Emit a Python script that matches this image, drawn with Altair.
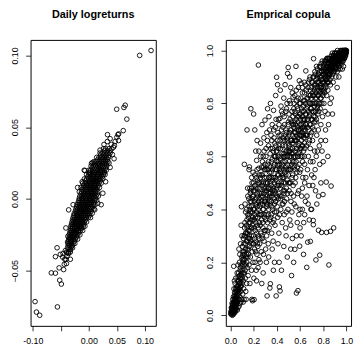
import altair as alt
import pandas as pd

# ---------------- Left panel: daily log-returns (x = asset 1, y = asset 2) ----------------
core_rows = [
    (0.035, [0.030, 0.036, 0.041, 0.026]),
    (0.0335, [0.028, 0.033, 0.038]),
    (0.032, [0.024, 0.029, 0.034, 0.038, 0.020]),
    (0.0305, [0.021, 0.026, 0.031, 0.036]),
    (0.029, [0.018, 0.023, 0.027, 0.031, 0.035, 0.014]),
    (0.0275, [0.016, 0.020, 0.025, 0.029, 0.033]),
    (0.026, [0.013, 0.018, 0.022, 0.026, 0.030, 0.034, 0.009]),
    (0.0245, [0.010, 0.015, 0.019, 0.024, 0.028, 0.031]),
    (0.023, [0.008, 0.012, 0.016, 0.020, 0.024, 0.028, 0.032, 0.004]),
    (0.0215, [0.006, 0.010, 0.014, 0.018, 0.022, 0.026, 0.030]),
    (0.020, [0.003, 0.008, 0.012, 0.016, 0.020, 0.023, 0.027, 0.031, 0.000]),
    (0.0185, [0.001, 0.006, 0.010, 0.013, 0.017, 0.021, 0.025, 0.028]),
    (0.017, [0.000, 0.004, 0.008, 0.011, 0.015, 0.018, 0.022, 0.026, -0.004, 0.029]),
    (0.0155, [-0.002, 0.002, 0.006, 0.009, 0.013, 0.016, 0.020, 0.024]),
    (0.014, [-0.004, 0.000, 0.004, 0.008, 0.011, 0.014, 0.018, 0.021, 0.025, -0.008]),
    (0.0125, [-0.006, -0.001, 0.002, 0.006, 0.009, 0.012, 0.016, 0.020]),
    (0.011, [-0.007, -0.003, 0.001, 0.004, 0.008, 0.011, 0.014, 0.018, 0.022, -0.011]),
    (0.0095, [-0.009, -0.004, -0.001, 0.003, 0.006, 0.010, 0.013, 0.017]),
    (0.008, [-0.010, -0.006, -0.002, 0.001, 0.005, 0.008, 0.011, 0.015, 0.019, -0.014]),
    (0.0065, [-0.012, -0.007, -0.004, 0.000, 0.003, 0.007, 0.010, 0.014]),
    (0.005, [-0.013, -0.009, -0.005, -0.002, 0.002, 0.005, 0.008, 0.012, 0.016, -0.017]),
    (0.0035, [-0.014, -0.010, -0.007, -0.003, 0.000, 0.004, 0.007, 0.011, 0.015]),
    (0.002, [-0.016, -0.012, -0.008, -0.005, -0.001, 0.002, 0.005, 0.009, 0.013, 0.017]),
    (0.0005, [-0.017, -0.013, -0.010, -0.006, -0.003, 0.001, 0.004, 0.008, 0.012]),
    (-0.001, [-0.018, -0.014, -0.011, -0.007, -0.004, 0.000, 0.003, 0.006, 0.010, 0.014]),
    (-0.0025, [-0.019, -0.016, -0.012, -0.008, -0.005, -0.002, 0.002, 0.005, 0.009]),
    (-0.004, [-0.021, -0.017, -0.013, -0.010, -0.006, -0.003, 0.000, 0.004, 0.008, 0.011]),
    (-0.0055, [-0.022, -0.018, -0.015, -0.011, -0.008, -0.004, -0.001, 0.003, 0.007]),
    (-0.007, [-0.023, -0.020, -0.016, -0.013, -0.009, -0.006, -0.003, 0.001, 0.005, 0.009]),
    (-0.0085, [-0.024, -0.021, -0.017, -0.014, -0.011, -0.007, -0.004, 0.000, 0.004]),
    (-0.010, [-0.026, -0.022, -0.019, -0.015, -0.012, -0.009, -0.006, -0.002, 0.002, 0.006]),
    (-0.0115, [-0.027, -0.023, -0.020, -0.017, -0.013, -0.010, -0.007, -0.003, 0.001]),
    (-0.013, [-0.028, -0.025, -0.021, -0.018, -0.015, -0.012, -0.008, -0.005, -0.001, 0.003]),
    (-0.0145, [-0.029, -0.026, -0.023, -0.019, -0.016, -0.013, -0.010, -0.006]),
    (-0.016, [-0.030, -0.027, -0.024, -0.021, -0.018, -0.014, -0.011, -0.008, -0.004]),
    (-0.0175, [-0.031, -0.028, -0.025, -0.022, -0.019, -0.015, -0.012, -0.009]),
    (-0.019, [-0.032, -0.029, -0.026, -0.023, -0.020, -0.017, -0.014, -0.010, -0.007]),
    (-0.0205, [-0.032, -0.029, -0.026, -0.022, -0.019, -0.016, -0.013]),
    (-0.022, [-0.033, -0.030, -0.027, -0.024, -0.021, -0.018, -0.015, -0.011]),
    (-0.0235, [-0.034, -0.031, -0.028, -0.025, -0.022, -0.018]),
    (-0.025, [-0.035, -0.032, -0.029, -0.026, -0.023, -0.020, -0.016]),
    (-0.0265, [-0.035, -0.032, -0.029, -0.026, -0.022]),
    (-0.028, [-0.036, -0.033, -0.030, -0.027, -0.024, -0.020]),
    (-0.0295, [-0.036, -0.033, -0.030, -0.026]),
    (-0.031, [-0.037, -0.034, -0.031, -0.028, -0.025]),
    (-0.0325, [-0.037, -0.034, -0.030]),
    (-0.034, [-0.038, -0.035, -0.032, -0.029]),
    (-0.037, [-0.040, -0.036, -0.033]),
]

ret_x_outer = [0.0907, 0.111, 0.0649, 0.0626, 0.0497, 0.0678, 0.0614, 0.0532, 0.052, 0.0333,
               0.053, 0.0456, 0.0064, -0.0082, 0.0006, 0.040, 0.044, 0.047, 0.038, 0.042,
               0.050, 0.033, 0.027, 0.020, 0.045, 0.036, 0.038,
               0.0047, -0.007, 0.0105, 0.016, -0.012, 0.030, 0.025, -0.020, 0.022, -0.028,
               -0.096, -0.0935, -0.0877, -0.0561, -0.049, -0.052, -0.067, -0.0596, -0.053,
               -0.045, -0.0439, -0.0567, -0.0596, -0.0509, -0.0468, -0.0409, -0.039, -0.036,
               -0.041, -0.0374, -0.031, -0.033, -0.042, -0.039, -0.036, -0.043, -0.040,
               -0.033, -0.038, -0.046]
ret_y_outer = [0.1000, 0.1034, 0.0653, 0.0637, 0.0625, 0.0556, 0.0476, 0.0453, 0.0448, 0.0448,
               0.0407, 0.0372, 0.0253, 0.0200, 0.0180, 0.038, 0.036, 0.040, 0.042, 0.031,
               0.043, 0.040, 0.038, 0.034, 0.028, 0.025, 0.022,
               0.0248, 0.0198, -0.0075, -0.003, 0.012, 0.012, 0.004, 0.008, -0.004, -0.004,
               -0.0715, -0.0788, -0.081, -0.0752, -0.0593, -0.0566, -0.0515, -0.0517, -0.048,
               -0.0492, -0.0455, -0.034, -0.0402, -0.0386, -0.0405, -0.042, -0.0375, -0.0076,
               -0.0202, -0.026, -0.033, -0.0352, -0.036, -0.040, -0.038, -0.042, -0.045,
               -0.042, -0.030, -0.038]

ret_x, ret_y = [], []
for yv, xs in core_rows:
    for xv in xs:
        ret_x.append(xv)
        ret_y.append(yv)
ret_x += ret_x_outer
ret_y += ret_y_outer

# ---------------- Right panel: empirical copula (pseudo-observations) ----------------
cop_pts = [
    (0.003,0.005),(0.006,0.012),(0.01,0.004),(0.012,0.02),(0.015,0.01),(0.018,0.03),(0.02,0.015),(0.022,0.04),
    (0.025,0.022),(0.027,0.008),(0.03,0.035),(0.031,0.05),(0.033,0.025),(0.035,0.045),(0.037,0.018),(0.04,0.06),
    (0.041,0.03),(0.043,0.075),(0.045,0.04),(0.047,0.055),(0.048,0.02),(0.05,0.09),(0.008,0.028),(0.014,0.045),
    (0.02,0.06),(0.026,0.07),(0.03,0.1),(0.036,0.085),(0.04,0.12),(0.044,0.1),(0.028,0.185),(0.034,0.13),
    (0.046,0.14),(0.016,0.0),(0.024,0.003),(0.038,0.01),(0.042,0.015),(0.049,0.03),
    (0.052,0.04),(0.055,0.07),(0.057,0.11),(0.06,0.05),(0.062,0.09),(0.064,0.13),(0.066,0.03),(0.068,0.08),
    (0.07,0.16),(0.072,0.06),(0.074,0.12),(0.076,0.1),(0.078,0.2),(0.08,0.07),(0.082,0.14),(0.084,0.045),
    (0.086,0.18),(0.088,0.11),(0.09,0.09),(0.092,0.34),(0.094,0.15),(0.096,0.06),(0.098,0.22),(0.1,0.12),
    (0.058,0.16),(0.065,0.19),(0.073,0.25),(0.081,0.23),(0.087,0.27),(0.095,0.41),(0.099,0.3),(0.06,0.02),
    (0.075,0.035),(0.09,0.05),(0.053,0.1),(0.067,0.145),
    (0.102,0.17),(0.104,0.26),(0.106,0.08),(0.108,0.2),(0.11,0.13),(0.112,0.29),(0.114,0.1),(0.116,0.24),
    (0.118,0.06),(0.12,0.16),(0.122,0.33),(0.124,0.21),(0.126,0.42),(0.128,0.14),(0.13,0.27),(0.132,0.09),
    (0.134,0.19),(0.136,0.31),(0.138,0.23),(0.14,0.12),(0.142,0.36),(0.144,0.18),(0.146,0.28),(0.148,0.48),
    (0.15,0.22),(0.12,0.57),(0.143,0.7),(0.11,0.05),(0.135,0.06),(0.13,0.39),(0.118,0.3),(0.107,0.23),
    (0.152,0.15),(0.154,0.32),(0.156,0.25),(0.158,0.44),(0.16,0.19),(0.162,0.38),(0.164,0.56),(0.166,0.29),
    (0.168,0.12),(0.17,0.35),(0.172,0.22),(0.174,0.47),(0.176,0.78),(0.178,0.27),(0.18,0.41),(0.182,0.17),
    (0.184,0.33),(0.186,0.5),(0.188,0.24),(0.19,0.055),(0.192,0.37),(0.194,0.2),(0.196,0.45),(0.198,0.3),
    (0.2,0.27),(0.16,0.55),(0.185,0.06),(0.2,0.76),(0.195,0.54),(0.17,0.43),
    (0.202,0.14),(0.204,0.059),(0.206,0.36),(0.208,0.25),(0.21,0.49),(0.212,0.2),(0.214,0.32),(0.216,0.42),
    (0.218,0.62),(0.22,0.28),(0.222,0.17),(0.224,0.39),(0.226,0.585),(0.228,0.23),(0.23,0.46),(0.232,0.34),
    (0.234,0.51),(0.236,0.26),(0.238,0.18),(0.24,0.4),(0.242,0.3),(0.244,0.555),(0.246,0.21),(0.248,0.44),
    (0.25,0.35),(0.241,0.945),(0.21,0.7),(0.23,0.66),(0.245,0.62),(0.225,0.13),
    (0.252,0.27),(0.254,0.48),(0.256,0.2),(0.258,0.38),(0.26,0.65),(0.262,0.31),(0.264,0.53),(0.266,0.24),
    (0.268,0.43),(0.27,0.36),(0.272,0.72),(0.274,0.29),(0.276,0.58),(0.278,0.45),(0.28,0.33),(0.282,0.16),
    (0.284,0.5),(0.286,0.4),(0.288,0.67),(0.29,0.28),(0.292,0.55),(0.294,0.37),(0.296,0.47),(0.298,0.737),
    (0.3,0.32),(0.27,0.12),(0.285,0.23),(0.26,0.6),(0.29,0.62),
    (0.302,0.44),(0.304,0.25),(0.306,0.6),(0.308,0.38),(0.31,0.52),(0.312,0.3),(0.314,0.69),(0.316,0.073),
    (0.318,0.42),(0.32,0.35),(0.322,0.57),(0.324,0.48),(0.326,0.27),(0.328,0.64),(0.33,0.4),(0.332,0.75),
    (0.334,0.33),(0.336,0.54),(0.338,0.45),(0.34,0.103),(0.342,0.61),(0.344,0.119),(0.346,0.5),(0.348,0.37),
    (0.35,0.68),(0.31,0.2),(0.33,0.22),(0.345,0.8),(0.32,0.78),
    (0.352,0.43),(0.354,0.58),(0.356,0.31),(0.358,0.52),(0.36,0.72),(0.362,0.4),(0.364,0.63),(0.366,0.47),
    (0.368,0.28),(0.37,0.56),(0.372,0.774),(0.374,0.36),(0.376,0.67),(0.378,0.5),(0.38,0.42),(0.382,0.6),
    (0.384,0.34),(0.386,0.71),(0.388,0.55),(0.39,0.46),(0.392,0.64),(0.394,0.073),(0.396,0.39),(0.398,0.899),
    (0.4,0.58),(0.36,0.25),(0.38,0.2),(0.39,0.83),(0.37,0.17),
    (0.402,0.49),(0.404,0.66),(0.406,0.871),(0.408,0.37),(0.41,0.6),(0.412,0.44),(0.414,0.74),(0.416,0.53),
    (0.418,0.31),(0.42,0.68),(0.422,0.107),(0.424,0.57),(0.426,0.743),(0.428,0.092),(0.43,0.48),(0.432,0.63),
    (0.434,0.4),(0.436,0.79),(0.438,0.55),(0.44,0.7),(0.442,0.45),(0.444,0.61),(0.446,0.35),(0.448,0.52),
    (0.45,0.76),(0.42,0.2),(0.44,0.17),(0.43,0.85),(0.41,0.27),
    (0.452,0.58),(0.454,0.42),(0.456,0.67),(0.458,0.5),(0.46,0.82),(0.462,0.61),(0.464,0.38),(0.466,0.72),
    (0.468,0.54),(0.47,0.47),(0.471,0.871),(0.474,0.64),(0.476,0.33),(0.478,0.77),(0.48,0.56),(0.482,0.69),
    (0.484,0.44),(0.486,0.6),(0.488,0.8),(0.49,0.51),(0.493,0.913),(0.494,0.66),(0.496,0.4),(0.498,0.936),
    (0.5,0.73),(0.46,0.26),(0.48,0.3),(0.49,0.22),(0.5,0.62),
    (0.502,0.55),(0.504,0.68),(0.506,0.47),(0.508,0.81),(0.51,0.6),(0.512,0.36),(0.514,0.74),(0.516,0.63),
    (0.518,0.5),(0.52,0.86),(0.522,0.43),(0.524,0.7),(0.527,0.15),(0.528,0.57),(0.53,0.77),(0.532,0.65),
    (0.534,0.29),(0.536,0.53),(0.538,0.72),(0.54,0.824),(0.542,0.61),(0.544,0.45),(0.546,0.78),(0.548,0.58),
    (0.55,0.67),(0.52,0.25),(0.53,0.39),(0.545,0.2),(0.51,0.9),
    (0.552,0.73),(0.555,0.83),(0.556,0.62),(0.555,0.249),(0.558,0.5),(0.56,0.76),(0.562,0.69),(0.564,0.41),
    (0.566,0.58),(0.568,0.85),(0.569,0.084),(0.57,0.66),(0.572,0.54),(0.574,0.79),(0.576,0.35),(0.578,0.71),
    (0.58,0.6),(0.582,0.093),(0.584,0.82),(0.586,0.64),(0.588,0.47),(0.59,0.75),(0.592,0.57),(0.594,0.886),
    (0.596,0.68),(0.597,0.261),(0.6,0.72),(0.57,0.3),(0.59,0.38),(0.565,0.94),
    (0.602,0.63),(0.604,0.8),(0.606,0.55),(0.608,0.7),(0.61,0.876),(0.612,0.66),(0.614,0.45),(0.616,0.77),
    (0.618,0.6),(0.62,0.84),(0.622,0.71),(0.624,0.52),(0.626,0.68),(0.628,0.79),(0.63,0.62),(0.632,0.35),
    (0.634,0.74),(0.636,0.88),(0.638,0.65),(0.64,0.57),(0.642,0.81),(0.644,0.7),(0.646,0.43),(0.648,0.76),
    (0.65,0.923),(0.61,0.3),(0.63,0.23),(0.64,0.5),(0.62,0.4),
    (0.652,0.72),(0.654,0.85),(0.656,0.64),(0.658,0.181),(0.66,0.78),(0.662,0.68),(0.664,0.55),(0.666,0.276),
    (0.668,0.82),(0.67,0.74),(0.672,0.6),(0.674,0.88),(0.676,0.7),(0.678,0.49),(0.68,0.8),(0.682,0.66),
    (0.684,0.76),(0.686,0.9),(0.688,0.63),(0.689,0.279),(0.69,0.83),(0.692,0.72),(0.694,0.4),(0.696,0.78),
    (0.698,0.86),(0.7,0.69),(0.68,0.36),(0.66,0.45),(0.7,0.53),
    (0.702,0.8),(0.704,0.74),(0.706,0.88),(0.708,0.66),(0.71,0.83),(0.712,0.58),(0.714,0.358),(0.715,0.342),
    (0.716,0.77),(0.717,0.969),(0.718,0.9),(0.72,0.7),(0.722,0.85),(0.724,0.79),(0.726,0.62),(0.728,0.92),
    (0.73,0.75),(0.732,0.82),(0.734,0.47),(0.736,0.87),(0.737,0.209),(0.738,0.73),(0.74,0.8),(0.742,0.94),
    (0.744,0.68),(0.746,0.85),(0.748,0.78),(0.75,0.9),(0.72,0.52),(0.74,0.6),(0.745,0.42),
    (0.752,0.83),(0.754,0.76),(0.756,0.88),(0.758,0.7),(0.759,0.321),(0.76,0.91),(0.762,0.8),(0.764,0.85),
    (0.766,0.64),(0.768,0.94),(0.77,0.227),(0.772,0.87),(0.774,0.78),(0.776,0.9),(0.778,0.82),(0.78,0.72),
    (0.782,0.95),(0.784,0.86),(0.786,0.313),(0.788,0.8),(0.79,0.92),(0.792,0.84),(0.794,0.75),(0.796,0.89),
    (0.798,0.456),(0.8,0.93),(0.77,0.57),(0.79,0.62),(0.78,0.5),
    (0.802,0.86),(0.804,0.91),(0.806,0.8),(0.808,0.95),(0.81,0.88),(0.812,0.84),(0.814,0.93),(0.816,0.77),
    (0.818,0.9),(0.82,0.96),(0.822,0.86),(0.824,0.92),(0.826,0.503),(0.828,0.89),(0.829,0.313),(0.829,0.963),
    (0.83,0.83),(0.832,0.94),(0.834,0.88),(0.836,0.97),(0.838,0.91),(0.84,0.85),(0.842,0.95),(0.844,0.9),
    (0.846,0.72),(0.848,0.93),(0.849,0.19),(0.85,0.88),(0.82,0.66),(0.84,0.6),
    (0.852,0.95),(0.854,0.91),(0.856,0.97),(0.858,0.89),(0.86,0.94),(0.862,0.87),(0.863,0.317),(0.864,0.96),
    (0.866,0.92),(0.868,0.488),(0.87,0.98),(0.872,0.9),(0.874,0.95),(0.876,0.93),(0.878,0.97),(0.88,0.91),
    (0.882,0.96),(0.884,0.94),(0.886,0.88),(0.888,0.98),(0.89,0.33),(0.89,0.948),(0.892,0.95),(0.894,0.92),
    (0.896,0.97),(0.898,0.99),(0.9,0.94),(0.87,0.82),(0.88,0.76),
    (0.902,0.96),(0.904,0.93),(0.906,0.98),(0.908,0.95),(0.91,0.9),(0.912,0.97),(0.914,0.94),(0.916,0.99),
    (0.918,0.96),(0.92,0.92),(0.922,0.98),(0.924,0.95),(0.926,0.97),(0.928,0.93),(0.93,0.99),(0.932,0.96),
    (0.934,0.94),(0.936,0.98),(0.938,0.95),(0.94,0.97),(0.942,0.99),(0.944,0.96),(0.946,0.93),(0.948,0.98),
    (0.95,0.97),(0.92,0.86),(0.935,0.9),
    (0.952,0.98),(0.954,0.96),(0.956,0.99),(0.958,0.97),(0.96,0.95),(0.962,0.98),(0.964,0.99),(0.966,0.97),
    (0.968,1.0),(0.97,0.96),(0.972,0.98),(0.974,0.99),(0.976,0.97),(0.978,1.0),(0.98,0.98),(0.982,0.99),
    (0.984,0.97),(0.986,1.0),(0.988,0.99),(0.99,0.98),(0.992,1.0),(0.994,0.99),(0.996,1.0),(0.998,0.995),
    (1.0,1.0),(0.965,0.93),(0.975,0.94),
    # denser core along the diagonal
    (0.005,0.015),(0.009,0.008),(0.011,0.03),(0.013,0.016),(0.017,0.022),(0.019,0.042),(0.021,0.028),(0.023,0.012),
    (0.026,0.05),(0.029,0.04),(0.032,0.062),(0.034,0.02),(0.036,0.07),(0.039,0.045),(0.042,0.085),(0.044,0.05),
    (0.046,0.065),(0.05,0.06),(0.053,0.078),(0.056,0.09),(0.058,0.05),(0.061,0.1),(0.063,0.075),(0.066,0.11),
    (0.069,0.095),(0.071,0.13),(0.073,0.085),(0.077,0.12),(0.079,0.15),(0.081,0.1),(0.083,0.17),(0.085,0.125),
    (0.089,0.14),(0.091,0.19),(0.093,0.11),(0.097,0.16),(0.101,0.21),(0.103,0.14),(0.105,0.19),(0.109,0.24),
    (0.111,0.16),(0.113,0.21),(0.117,0.27),(0.119,0.19),(0.121,0.23),(0.125,0.3),(0.127,0.17),(0.129,0.25),
    (0.133,0.22),(0.137,0.28),(0.139,0.34),(0.141,0.2),(0.145,0.25),(0.147,0.31),(0.149,0.38),(0.153,0.23),
    (0.157,0.29),(0.159,0.35),(0.161,0.41),(0.163,0.26),(0.167,0.32),(0.169,0.4),(0.171,0.46),(0.173,0.28),
    (0.177,0.36),(0.179,0.43),(0.181,0.3),(0.183,0.48),(0.187,0.39),(0.189,0.34),(0.191,0.45),(0.193,0.27),
    (0.197,0.4),(0.199,0.5),(0.203,0.33),(0.207,0.43),(0.209,0.29),(0.211,0.38),(0.213,0.47),(0.217,0.24),
    (0.219,0.35),(0.221,0.44),(0.223,0.52),(0.227,0.31),(0.229,0.41),(0.233,0.27),(0.235,0.37),(0.237,0.48),
    (0.239,0.33),(0.243,0.43),(0.247,0.29),(0.249,0.5),
    (0.253,0.41),(0.257,0.34),(0.259,0.52),(0.263,0.45),(0.267,0.38),(0.269,0.56),(0.271,0.3),(0.273,0.49),
    (0.277,0.42),(0.279,0.35),(0.283,0.6),(0.287,0.46),(0.289,0.38),(0.291,0.52),(0.293,0.32),(0.297,0.57),
    (0.299,0.43),(0.303,0.5),(0.305,0.36),(0.307,0.63),(0.309,0.47),(0.313,0.41),(0.315,0.55),(0.317,0.32),
    (0.319,0.66),(0.321,0.5),(0.323,0.44),(0.327,0.38),(0.329,0.58),(0.331,0.52),(0.333,0.46),(0.337,0.7),
    (0.339,0.36),(0.341,0.56),(0.343,0.42),(0.347,0.63),(0.349,0.48),(0.351,0.54),(0.353,0.38),(0.357,0.66),
    (0.359,0.45),(0.361,0.59),(0.363,0.51),(0.367,0.35),(0.369,0.62),(0.371,0.48),(0.373,0.7),(0.377,0.44),
    (0.379,0.57),(0.381,0.39),(0.383,0.65),(0.387,0.52),(0.389,0.6),(0.391,0.43),(0.393,0.74),(0.397,0.55),
    (0.399,0.48),(0.401,0.62),(0.403,0.41),(0.407,0.57),(0.409,0.69),(0.411,0.5),(0.413,0.63),(0.417,0.46),
    (0.419,0.72),(0.421,0.55),(0.423,0.38),(0.427,0.66),(0.429,0.52),(0.431,0.59),(0.433,0.44),(0.437,0.68),
    (0.439,0.5),(0.441,0.77),(0.443,0.56),(0.447,0.42),(0.449,0.64),(0.451,0.53),(0.453,0.71),(0.457,0.47),
    (0.459,0.6),(0.461,0.55),(0.463,0.75),(0.467,0.43),(0.469,0.66),(0.471,0.58),(0.473,0.5),(0.477,0.7),
    (0.479,0.62),(0.481,0.39),(0.483,0.78),(0.487,0.55),(0.489,0.67),(0.491,0.46),(0.493,0.6),(0.497,0.72),
    (0.499,0.53),
    (0.503,0.64),(0.505,0.76),(0.507,0.58),(0.509,0.5),(0.511,0.69),(0.513,0.62),(0.517,0.8),(0.519,0.55),
    (0.521,0.66),(0.523,0.46),(0.525,0.73),(0.529,0.61),(0.531,0.52),(0.533,0.84),(0.535,0.68),(0.537,0.58),
    (0.539,0.75),(0.541,0.49),(0.543,0.65),(0.547,0.71),(0.549,0.8),(0.551,0.56),(0.553,0.69),(0.557,0.77),
    (0.559,0.6),(0.561,0.66),(0.563,0.52),(0.567,0.74),(0.569,0.81),(0.571,0.63),(0.573,0.7),(0.577,0.56),
    (0.579,0.78),(0.581,0.67),(0.583,0.73),(0.587,0.86),(0.589,0.61),(0.591,0.7),(0.593,0.8),(0.597,0.54),
    (0.599,0.76),
    (0.601,0.68),(0.603,0.74),(0.607,0.82),(0.609,0.63),(0.611,0.72),(0.613,0.78),(0.617,0.69),(0.619,0.86),
    (0.621,0.75),(0.623,0.64),(0.627,0.72),(0.629,0.81),(0.631,0.7),(0.633,0.77),(0.637,0.6),(0.639,0.84),
    (0.641,0.74),(0.643,0.67),(0.647,0.8),(0.649,0.72),(0.651,0.87),(0.653,0.76),(0.657,0.68),(0.659,0.82),
    (0.661,0.74),(0.663,0.79),(0.667,0.71),(0.669,0.86),(0.671,0.77),(0.673,0.65),(0.677,0.83),(0.679,0.75),
    (0.681,0.89),(0.683,0.72),(0.687,0.8),(0.689,0.85),(0.691,0.68),(0.693,0.78),(0.697,0.82),(0.699,0.74),
    (0.701,0.88),(0.703,0.77),(0.707,0.84),(0.709,0.71),(0.711,0.8),(0.713,0.9),(0.717,0.75),(0.719,0.83),
    (0.721,0.87),(0.723,0.73),(0.727,0.8),(0.729,0.86),(0.731,0.91),(0.733,0.77),(0.737,0.84),(0.739,0.89),
    (0.741,0.74),(0.743,0.82),(0.747,0.88),(0.749,0.93),(0.751,0.79),(0.753,0.86),(0.757,0.91),(0.759,0.83),
    (0.761,0.77),(0.763,0.88),(0.767,0.92),(0.769,0.84),(0.771,0.8),(0.773,0.9),(0.777,0.86),(0.779,0.94),
    (0.781,0.82),(0.783,0.89),(0.787,0.92),(0.789,0.85),(0.791,0.96),(0.793,0.88),(0.797,0.83),(0.799,0.91),
    (0.801,0.94),(0.803,0.88),(0.807,0.92),(0.809,0.85),(0.811,0.96),(0.813,0.9),(0.817,0.93),(0.819,0.87),
    (0.821,0.91),(0.823,0.95),(0.827,0.89),(0.829,0.93),(0.831,0.97),(0.833,0.9),(0.837,0.94),(0.839,0.88),
    (0.841,0.92),(0.843,0.97),(0.847,0.95),(0.849,0.91),(0.851,0.93),(0.853,0.97),(0.857,0.94),(0.859,0.91),
    (0.861,0.96),(0.863,0.93),(0.867,0.95),(0.869,0.92),(0.871,0.97),(0.873,0.94),(0.877,0.96),(0.879,0.99),
    (0.881,0.93),(0.883,0.97),(0.887,0.95),(0.889,0.92),(0.891,0.98),(0.893,0.96),(0.897,0.94),(0.899,0.97),
    (0.901,0.99),(0.903,0.95),(0.907,0.97),(0.909,0.93),(0.911,0.99),(0.913,0.96),(0.917,0.98),(0.919,0.95),
    (0.921,0.97),(0.923,1.0),(0.927,0.96),(0.929,0.98),(0.931,0.95),(0.933,0.99),(0.937,0.97),(0.939,0.99),
    (0.941,0.96),(0.943,0.98),(0.947,1.0),(0.949,0.97),(0.951,0.99),(0.953,0.97),(0.957,0.98),(0.959,1.0),
    (0.961,0.97),(0.963,0.99),(0.967,0.98),(0.969,0.96),(0.971,1.0),(0.973,0.98),(0.977,0.99),(0.979,0.97),
    (0.981,1.0),(0.983,0.99),(0.987,0.98),(0.989,1.0),(0.991,0.99),(0.993,0.98),(0.997,1.0),(0.999,0.99),
    # extra density in the middle of the cloud
    (0.125,0.35),(0.13,0.31),(0.138,0.4),(0.144,0.33),(0.15,0.45),(0.155,0.37),(0.162,0.3),(0.167,0.48),
    (0.172,0.39),(0.178,0.33),(0.183,0.52),(0.188,0.44),(0.194,0.36),(0.2,0.47),(0.205,0.4),(0.21,0.53),
    (0.215,0.37),(0.22,0.48),(0.225,0.42),(0.23,0.55),(0.235,0.45),(0.24,0.5),(0.245,0.38),(0.25,0.53),
    (0.255,0.46),(0.26,0.42),(0.265,0.5),(0.27,0.46),(0.275,0.53),(0.28,0.4),(0.285,0.56),(0.29,0.48),
    (0.295,0.43),(0.3,0.55),(0.305,0.48),(0.31,0.42),(0.315,0.5),(0.32,0.45),(0.325,0.55),(0.33,0.48),
    (0.335,0.43),(0.34,0.52),(0.345,0.46),
    (0.352,0.49),(0.357,0.41),(0.362,0.55),(0.367,0.46),(0.372,0.52),(0.377,0.6),(0.382,0.47),(0.387,0.43),
    (0.392,0.51),(0.397,0.62),(0.402,0.45),(0.407,0.53),(0.412,0.58),(0.417,0.49),(0.422,0.64),(0.427,0.45),
    (0.432,0.54),(0.437,0.6),(0.442,0.49),(0.447,0.57),(0.452,0.66),(0.457,0.52),(0.462,0.46),(0.467,0.6),
    (0.472,0.68),(0.477,0.53),(0.482,0.48),(0.487,0.62),(0.492,0.57),(0.497,0.65),(0.502,0.5),(0.507,0.62),
    (0.512,0.55),(0.517,0.7),(0.522,0.6),(0.527,0.66),(0.532,0.56),(0.537,0.63),(0.542,0.72),(0.547,0.6),
    (0.552,0.66),(0.557,0.55),(0.562,0.72),(0.567,0.63),(0.572,0.68),(0.577,0.75),(0.582,0.6),(0.587,0.7),
    (0.592,0.65),(0.597,0.62),(0.602,0.76),(0.607,0.6),(0.612,0.68),(0.617,0.64),(0.622,0.58),(0.627,0.74),
    (0.632,0.67),(0.637,0.71),(0.642,0.63),(0.647,0.68),
    (0.52,0.34),(0.55,0.42),(0.58,0.46),(0.6,0.4),(0.62,0.48),(0.65,0.52),(0.67,0.42),(0.69,0.58),
    (0.71,0.49),(0.73,0.55),(0.75,0.62),(0.76,0.45),(0.78,0.66),(0.8,0.58),(0.82,0.7),(0.84,0.76),
    (0.86,0.8),(0.6,0.33),(0.64,0.38),(0.7,0.4),
]
cop_u = [p[0] for p in cop_pts]
cop_v = [p[1] for p in cop_pts]

ret_xticks = [-0.10, -0.05, 0.00, 0.05, 0.10]
ret_yticks = [-0.05, 0.00, 0.05, 0.10]
cop_ticks = [0.0, 0.2, 0.4, 0.6, 0.8, 1.0]

FONT = "Liberation Sans"
W, H = 127, 290

df_ret = pd.DataFrame({"x": ret_x, "y": ret_y})
df_cop = pd.DataFrame({"u": cop_u, "v": cop_v})

pt = dict(shape="circle", filled=False, color="black", size=22, strokeWidth=0.9, opacity=1)

def xaxis(vals, fmt, expr=None):
    kw = dict(values=vals, format=fmt, title=None, grid=False, domain=False,
              tickSize=5, tickColor="black", tickWidth=0.8, labelPadding=6,
              labelFont=FONT, labelFontSize=9, labelColor="black", labelOverlap=False,
              labelFlush=False)
    if expr:
        kw["labelExpr"] = expr
    return alt.Axis(**kw)

def yaxis(vals, fmt):
    return alt.Axis(values=vals, format=fmt, title=None, grid=False, domain=False,
                    tickSize=5, tickColor="black", tickWidth=0.8, labelPadding=6,
                    labelFont=FONT, labelFontSize=9, labelColor="black", labelAngle=270,
                    labelAlign="center", labelBaseline="bottom", labelOverlap=False,
                    labelFlush=False, minExtent=30, maxExtent=30)

left = alt.Chart(df_ret).mark_point(**pt).encode(
    x=alt.X("x:Q", scale=alt.Scale(domain=[-0.1040, 0.1195], nice=False, zero=False),
            axis=xaxis(ret_xticks, ".2f", "datum.value == -0.05 ? '' : replace(format(datum.value, '.2f'), '\u2212', '-')")),
    y=alt.Y("y:Q", scale=alt.Scale(domain=[-0.0884, 0.1108], nice=False, zero=False),
            axis=yaxis(ret_yticks, ".2f")),
).properties(
    width=W, height=H,
    title=alt.TitleParams("Daily logreturns", font=FONT, fontSize=11, fontWeight="bold",
                          color="black", anchor="middle", baseline="alphabetic", offset=11),
)

right = alt.Chart(df_cop).mark_point(**pt).encode(
    x=alt.X("u:Q", scale=alt.Scale(domain=[-0.04, 1.04], nice=False, zero=False),
            axis=xaxis(cop_ticks, ".1f")),
    y=alt.Y("v:Q", scale=alt.Scale(domain=[-0.04, 1.04], nice=False, zero=False),
            axis=yaxis(cop_ticks, ".1f")),
).properties(
    width=W, height=H,
    title=alt.TitleParams("Emprical copula", font=FONT, fontSize=11, fontWeight="bold",
                          color="black", anchor="middle", baseline="alphabetic", offset=11),
)

chart = alt.hconcat(left, right, spacing=39).properties(
    padding={"left": 0, "top": 6, "right": 0, "bottom": 0},
    background="white",
).configure_view(stroke="black", strokeWidth=1)

chart.save("out.html", embed_options={"renderer": "svg", "actions": False})
